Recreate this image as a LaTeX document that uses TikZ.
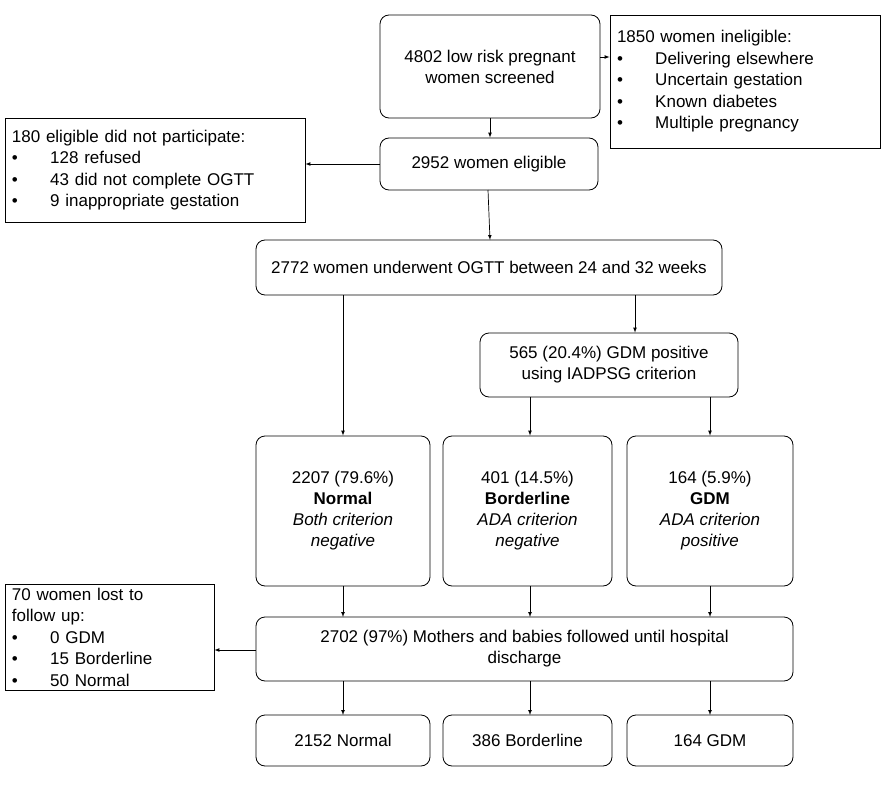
\documentclass[tikz,border=0pt]{standalone}
\usepackage{fontspec}
\setmainfont{Liberation Sans}
\begin{document}
\begin{tikzpicture}[x=1pt,y=-1pt,
 rb/.style={draw,rounded corners=9pt,line width=0.8pt,align=center,font=\fontsize{17}{21}\selectfont},
 sb/.style={draw,line width=0.8pt,align=left,font=\fontsize{17}{21.5}\selectfont},
 ar/.style={-latex,line width=0.7pt}]
\useasboundingbox (0,0) rectangle (887,800);
\newcommand\bx[6]{\node[#1,minimum width=#4-#2,minimum height=#5-#3,inner sep=3pt] (#6) at ({(#2+#4)/2},{(#3+#5)/2})}
\newcommand\sbx[6]{\node[#1,text width=#4-#2-14,minimum height=#5-#3,inner xsep=7pt,inner ysep=3pt] (#6) at ({(#2+#4)/2},{(#3+#5)/2})}
\newcommand\bl{\textbullet\hspace{1.9em}}
\bx{rb}{380}{15}{600}{118}{A} {4802 low risk pregnant\\women screened};
\sbx{sb}{610}{15}{880}{148}{B} {1850 women ineligible:\\\bl Delivering elsewhere\\\bl Uncertain gestation\\\bl Known diabetes\\\bl Multiple pregnancy};
\bx{rb}{380}{138}{598}{190}{C} {2952 women eligible};
\sbx{sb}{5}{118}{305}{222}{D} {180 eligible did not participate:\\\bl 128 refused\\\bl 43 did not complete OGTT\\\bl 9 inappropriate gestation};
\bx{rb}{256}{240}{722}{295}{E} {2772 women underwent OGTT between 24 and 32 weeks};
\bx{rb}{480}{333}{738}{397}{F} {565 (20.4\%) GDM positive\\using IADPSG criterion};
\bx{rb}{256}{436}{430}{586}{G1} {2207 (79.6\%)\\\textbf{Normal}\\\textit{Both criterion}\\\textit{negative}};
\bx{rb}{443}{436}{612}{586}{G2} {401 (14.5\%)\\\textbf{Borderline}\\\textit{ADA criterion}\\\textit{negative}};
\bx{rb}{627}{436}{793}{586}{G3} {164 (5.9\%)\\\textbf{GDM}\\\textit{ADA criterion}\\\textit{positive}};
\bx{rb}{256}{617}{793}{681}{H} {2702 (97\%) Mothers and babies followed until hospital\\discharge};
\sbx{sb}{5}{584}{214}{690}{I} {70 women lost to\\follow up:\\\bl 0 GDM\\\bl 15 Borderline\\\bl 50 Normal};
\bx{rb}{256}{715}{430}{766}{J1} {2152 Normal};
\bx{rb}{443}{715}{612}{766}{J2} {386 Borderline};
\bx{rb}{627}{715}{793}{766}{J3} {164 GDM};
\draw[ar] (490,118) -- (C.north-|490,0);
\draw[ar] (A.east|-0,57) -- (B.west|-0,57);
\draw[ar] (C.west) -- (D.east|-C.west);
\draw[ar] (488,190) -- (490,240);
\draw[ar] (343,295) -- (G1.north-|343,0);
\draw[ar] (635,295) -- (F.north-|635,0);
\draw[ar] (530,397) -- (G2.north-|530,0);
\draw[ar] (710,397) -- (G3.north-|710,0);
\foreach \g/\x in {G1/343,G2/530,G3/710}{\draw[ar] (\x,586) -- (\x,617);}
\draw[ar] (H.west|-0,650) -- (I.east|-0,650);
\foreach \j/\x in {J1/343,J2/530,J3/710}{\draw[ar] (\x,681) -- (\x,715);}
\end{tikzpicture}
\end{document}
